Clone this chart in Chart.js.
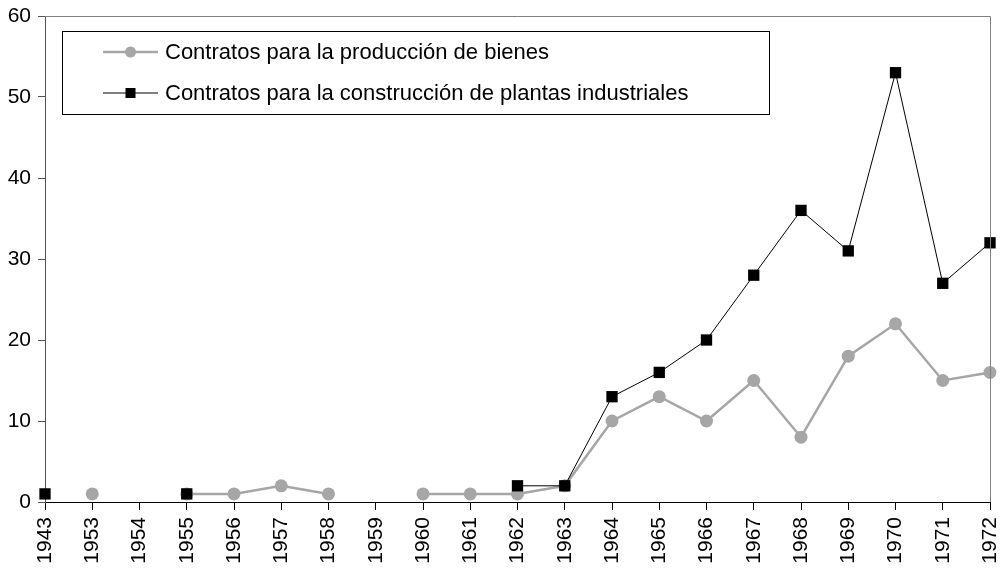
<!DOCTYPE html>
<html>
<head>
<meta charset="utf-8">
<script src="https://cdn.jsdelivr.net/npm/chart.js@4"></script>
<style>
  html, body { margin: 0; padding: 0; background: #fff; }
  #wrap { width: 1002px; height: 568px; }
</style>
</head>
<body>
<div id="wrap"><canvas id="chart" width="1002" height="568"></canvas></div>
<script>
const years = ["1943", "1953", "1954", "1955", "1956", "1957", "1958", "1959", "1960", "1961", "1962",
  "1963", "1964", "1965", "1966", "1967", "1968", "1969", "1970", "1971", "1972"];

const bienes = [null, 1, null, 1, 1, 2, 1, null, 1, 1, 1,
  2, 10, 13, 10, 15, 8, 18, 22, 15, 16];

const plantas = [1, null, null, 1, null, null, null, null, null, null, 2,
  2, 13, 16, 20, 28, 36, 31, 53, 27, 32];

const labels = [
  "Contratos para la producción de bienes",
  "Contratos para la construcción de plantas industriales",
];

const yTicks = [0, 10, 20, 30, 40, 50, 60];

const FONT = "'Liberation Sans', Arial, sans-serif";
const GREY = "#a6a6a6";

// frame on top / right, plus the boxed legend inside the plot
const frameAndLegend = {
  id: "frameAndLegend",
  afterDraw(chart) {
    const ctx = chart.ctx;
    const a = chart.chartArea;
    ctx.save();
    ctx.strokeStyle = "#808080";
    ctx.lineWidth = 1;
    ctx.beginPath();
    ctx.moveTo(a.left, a.top + 0.5);
    ctx.lineTo(a.right + 0.5, a.top + 0.5);
    ctx.lineTo(a.right + 0.5, a.bottom);
    ctx.stroke();

    const bx = a.left + 17, by = a.top + 15, bw = 707, bh = 83;
    ctx.fillStyle = "#fff";
    ctx.fillRect(bx, by, bw, bh);
    ctx.strokeStyle = "#000";
    ctx.strokeRect(bx + 0.5, by + 0.5, bw, bh);

    ctx.font = "22px " + FONT;
    ctx.textBaseline = "middle";
    chart.data.datasets.forEach((ds, i) => {
      const y = by + 21 + i * 41;
      const x0 = bx + 41, x1 = bx + 96, xm = (x0 + x1) / 2;
      ctx.strokeStyle = ds.borderColor;
      ctx.lineWidth = ds.borderWidth;
      ctx.beginPath();
      ctx.moveTo(x0, y);
      ctx.lineTo(x1, y);
      ctx.stroke();
      ctx.fillStyle = ds.pointBackgroundColor;
      if (ds.pointStyle === "rect") {
        ctx.fillRect(xm - 5, y - 5, 10, 10);
      } else {
        ctx.beginPath();
        ctx.arc(xm, y, 5.5, 0, Math.PI * 2);
        ctx.fill();
      }
      ctx.fillStyle = "#000";
      ctx.fillText(ds.label, x1 + 7, y + 1);
    });
    ctx.restore();
  },
};

new Chart(document.getElementById("chart"), {
  type: "line",
  data: {
    labels: years,
    datasets: [
      {
        label: labels[0],
        data: bienes,
        borderColor: GREY,
        borderWidth: 2.5,
        pointStyle: "circle",
        pointRadius: 6.5,
        pointBackgroundColor: GREY,
        pointBorderColor: GREY,
        pointBorderWidth: 0,
        spanGaps: false,
        order: 2,
      },
      {
        label: labels[1],
        data: plantas,
        borderColor: "#000",
        borderWidth: 1,
        pointStyle: "rect",
        pointRadius: 8,
        pointBackgroundColor: "#000",
        pointBorderColor: "#000",
        pointBorderWidth: 0,
        spanGaps: false,
        order: 1,
      },
    ],
  },
  options: {
    responsive: false,
    animation: false,
    layout: { padding: { top: 16, right: 12, left: 0, bottom: 0 } },
    plugins: {
      legend: { display: false },
      tooltip: { enabled: false },
    },
    scales: {
      x: {
        offset: false,
        afterFit: (s) => {
          s.height = 66;
          s.paddingLeft = 0;
          s.paddingRight = 0;
        },
        grid: {
          drawOnChartArea: false,
          color: "#000",
          tickLength: 8,
        },
        border: { color: "#000", width: 1 },
        ticks: {
          color: "#000",
          font: { family: FONT, size: 21 },
          maxRotation: 90,
          minRotation: 90,
          autoSkip: false,
          padding: 7,
        },
      },
      y: {
        min: 0,
        max: 60,
        afterBuildTicks: (s) => { s.ticks = yTicks.map((v) => ({ value: v })); },
        afterFit: (s) => {
          s.width = 45;
          s.paddingTop = 0;
          s.paddingBottom = 0;
        },
        grid: {
          drawOnChartArea: false,
          color: "#555",
          tickLength: 7,
        },
        border: { color: "#555", width: 1 },
        ticks: {
          color: "#000",
          font: { family: FONT, size: 21 },
          padding: 7,
        },
      },
    },
  },
  plugins: [frameAndLegend],
});
</script>
</body>
</html>
